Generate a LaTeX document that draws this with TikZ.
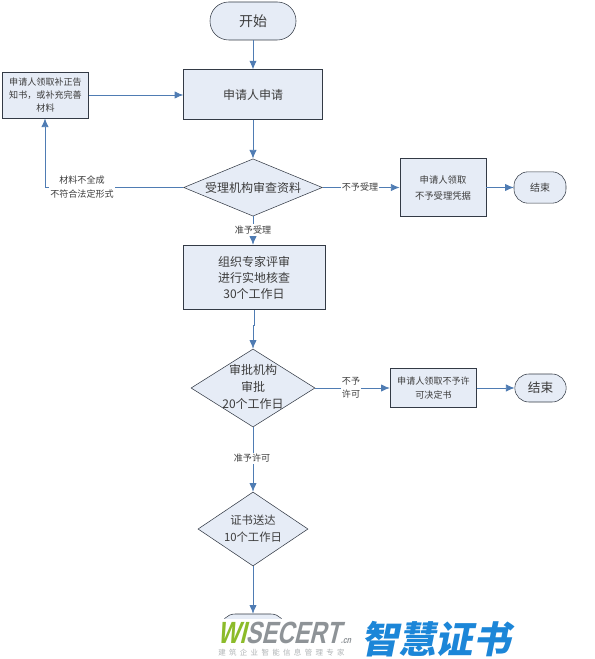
\documentclass[tikz,border=0pt]{standalone}
\usepackage{fontspec}
\setmainfont{Noto Sans CJK SC}
\newfontfamily\logofont[FakeSlant=0.25,FakeStretch=0.76]{Liberation Sans}
\newfontfamily\logocjk[FakeSlant=0.2]{Noto Sans CJK SC}
\usetikzlibrary{arrows.meta,positioning,shapes.geometric}
\definecolor{boxfill}{HTML}{E6ECF6}
\definecolor{flowblue}{HTML}{4F7CB3}
\definecolor{boxedge}{HTML}{333A45}
\definecolor{labelgray}{HTML}{3C3C3C}
\definecolor{logogreen}{HTML}{8CBB2A}
\definecolor{logogray}{HTML}{8E9397}
\definecolor{logoblue}{HTML}{1C86D8}
\tikzset{
  base/.style={draw=boxedge, fill=boxfill, align=center, inner sep=0pt, text=labelgray, font=\fontsize{9}{12}\selectfont},
  block/.style={base, semithick},
  terminal/.style={base, rounded corners=10.5pt},
  decision/.style={base, diamond, aspect=1.5},
  flow/.style={-{Latex[length=6.5pt,width=5.5pt]}, semithick, flowblue},
  tag/.style={fill=white, inner sep=1pt, align=center, text=labelgray, font=\fontsize{6.8}{10}\selectfont}
}
\begin{document}
\begin{tikzpicture}[x=0.75pt, y=-0.75pt]
  \useasboundingbox (0,0) rectangle (594,659);

  % Main column
  \node[terminal, minimum width=64.5pt, minimum height=28.5pt, rounded corners=14pt, font=\fontsize{10.5}{12}\selectfont] (start) at (253,21) {开始};
  \node[block, minimum width=104pt, minimum height=37pt] (apply) at (253,94.5) {申请人申请};
  \node[decision, minimum width=104pt, minimum height=43pt] (check) at (253,187.5) {};
  \node[font=\fontsize{9}{12}\selectfont, text=labelgray] (checktext) at (253,187.5) {受理机构审查资料};
  \node[block, minimum width=106.5pt, minimum height=48.5pt] (review) at (254,277.5) {组织专家评审\\进行实地核查\\30个工作日};
  \node[decision, minimum width=93pt, minimum height=58.5pt] (approve) at (253,388) {};
  \node[text=labelgray, align=center, font=\fontsize{9}{12.5}\selectfont] (approvetext) at (253,387) {审批机构\\审批\\20个工作日};
  \node[decision, minimum width=82.5pt, minimum height=55.5pt] (deliver) at (253,529) {};
  \node[text=labelgray, align=center, font=\fontsize{8.5}{12.5}\selectfont] (delivertext) at (253,529) {证书送达\\10个工作日};
  \node[terminal, minimum width=48pt, minimum height=24pt] (finish) at (253,630) {};

  % Side boxes
  \node[block, minimum width=65pt, minimum height=34.5pt, font=\fontsize{6.8}{10}\selectfont] (notice) at (45.5,95) {申请人领取补正告\\知书，或补充完善\\材料};
  \node[block, minimum width=64.5pt, minimum height=43pt, font=\fontsize{7}{12}\selectfont] (reject) at (443,187.5) {申请人领取\\不予受理凭据};
  \node[terminal, minimum width=39pt, minimum height=23.5pt, font=\fontsize{7.5}{10}\selectfont] (endone) at (540,187.5) {结束};
  \node[block, minimum width=65pt, minimum height=29pt, font=\fontsize{6.8}{11}\selectfont] (refuse) at (433.5,388) {申请人领取不予许\\可决定书};
  \node[terminal, minimum width=38.5pt, minimum height=21pt, font=\fontsize{9.5}{10}\selectfont] (endtwo) at (540.5,388) {结束};

  % Flows
  \draw[flow] (start) -- (apply);
  \draw[flow] (apply) -- (check);
  \draw[flow] (notice.east) -- (notice.east -| apply.west);
  \draw[flow] (check.west) -| (notice.south -| 45,0);
  \draw[flow] (check.east) -- (reject.west);
  \draw[flow] (reject.east) -- (endone.west);
  \draw[flow] (check.south) -- (check.south |- review.north);
  \draw[flow] (review.south) -- (254,325) -- (253,325) -- (approve.north);
  \draw[flow] (approve.east) -- (refuse.west);
  \draw[flow] (refuse.east) -- (endtwo.west);
  \draw[flow] (approve.south) -- (deliver.north);
  \draw[flow] (deliver.south) -- (finish.north);

  % Labels
  \node[tag] (lack) at (82,187) {材料不全成\\不符合法定形式};
  \node[tag] (noaccept) at (360,187) {不予受理};
  \node[tag] (accept) at (253,230) {准予受理};
  \node[tag] (nopermit) at (351,388) {不予\\许可};
  \node[tag] (permit) at (252,458) {准予许可};

  % Logo
  \fill[white] (215,619) rectangle (520,659);
  \node[anchor=base west, inner sep=0pt, font=\logofont\bfseries\fontsize{23}{23}\selectfont] (wise) at (217,643) {\textcolor{logogreen}{WI}\textcolor{logogray}{SECERT}};
  \node[anchor=base west, inner sep=0pt, text=logogray, font=\logofont\bfseries\fontsize{7}{7}\selectfont] (dotcn) at (wise.base east) {.cn};
  \node[anchor=west, inner sep=0pt, text=logoblue, font=\logocjk\bfseries\fontsize{28}{28}\selectfont] (brand) at (361,639) {智慧证书};
  \node[anchor=west, inner sep=0pt, text=logogray!70, font=\fontsize{5.6}{6}\selectfont] (slogan) at (218,653) {建\ \ 筑\ \ 企\ \ 业\ \ 智\ \ 能\ \ 信\ \ 息\ \ 管\ \ 理\ \ 专\ \ 家};
\end{tikzpicture}
\end{document}
